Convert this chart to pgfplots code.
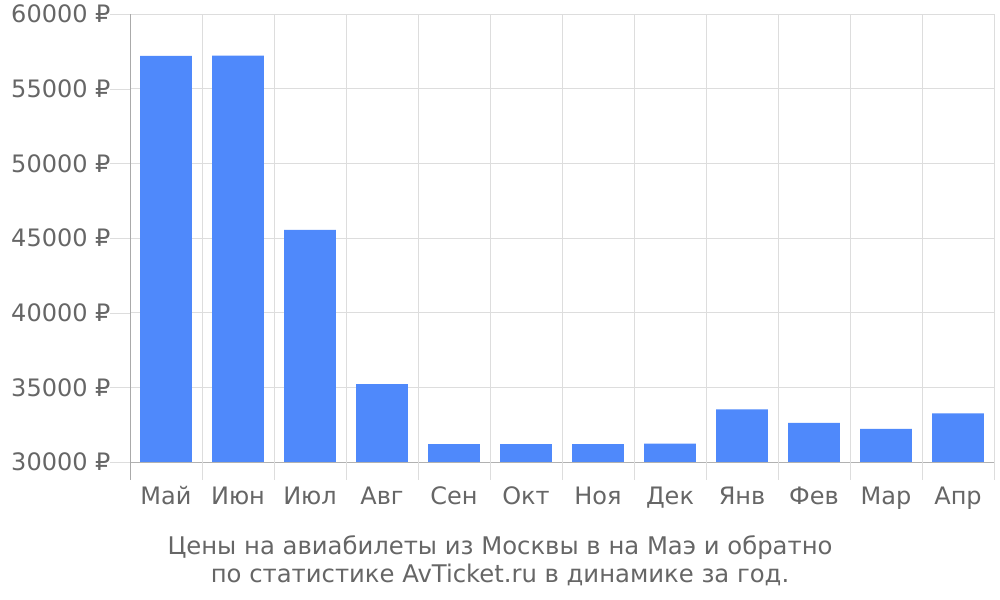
\documentclass[border=0pt]{standalone}
\usepackage{pgfplots}
\pgfplotsset{compat=1.18}
\usepackage{fontspec}
\setmainfont{DejaVu Sans}
\definecolor{barblue}{HTML}{4F89FB}
\definecolor{txtgray}{HTML}{666666}
\definecolor{gridgray}{HTML}{DDDDDD}
\definecolor{axisgray}{HTML}{AAAAAA}
\begin{document}
\begin{tikzpicture}
\path[use as bounding box] (0,0) rectangle (1000bp,600bp);
\begin{axis}[
  at={(130bp,138bp)}, anchor=south west,
  scale only axis, width=864bp, height=448bp,
  xmin=-0.5, xmax=11.5, ymin=30000, ymax=60000,
  ybar, bar width=0.72, bar shift=0pt,
  axis lines=left, axis line style={-},
  x axis line style={draw=gridgray!80!black},
  y axis line style={draw=axisgray},
  xtick={0,...,11},
  xticklabels={Май,Июн,Июл,Авг,Сен,Окт,Ноя,Дек,Янв,Фев,Мар,Апр},
  major x tick style={draw=none},
  minor xtick={-0.5,0.5,...,11.5},
  xminorgrids, minor x grid style={gridgray},
  ytick={30000,35000,...,60000},
  yticklabels={30000 ₽,35000 ₽,40000 ₽,45000 ₽,50000 ₽,55000 ₽,60000 ₽},
  scaled y ticks=false,
  ymajorgrids, major y grid style={gridgray},
  major y tick style={draw=gridgray},
  major tick length=20bp,
  tick align=outside,
  ticklabel style={font=\fontsize{24bp}{28bp}\selectfont, text=txtgray},
  xticklabel style={yshift=-1bp},
  yticklabel style={xshift=4bp},
  clip=false,
]
\addplot[fill=barblue, draw=none] coordinates {
  (0,57190) (1,57220) (2,45540) (3,35220) (4,31190) (5,31190)
  (6,31190) (7,31230) (8,33520) (9,32620) (10,32210) (11,33250)
};
\end{axis}
% category separators below the axis
\foreach \i in {1,...,12}{
  \pgfmathsetmacro\xx{130+72*\i}
  \draw[gridgray] (\xx bp,138bp) -- (\xx bp,120bp);
}
\draw[axisgray] (130bp,138bp) -- (130bp,120bp);
\node[text=txtgray, align=center, font=\fontsize{24.3bp}{28bp}\selectfont] at (500bp,39bp)
  {Цены на авиабилеты из Москвы в на Маэ и обратно\\по статистике AvTicket.ru в динамике за год.};
\end{tikzpicture}
\end{document}
